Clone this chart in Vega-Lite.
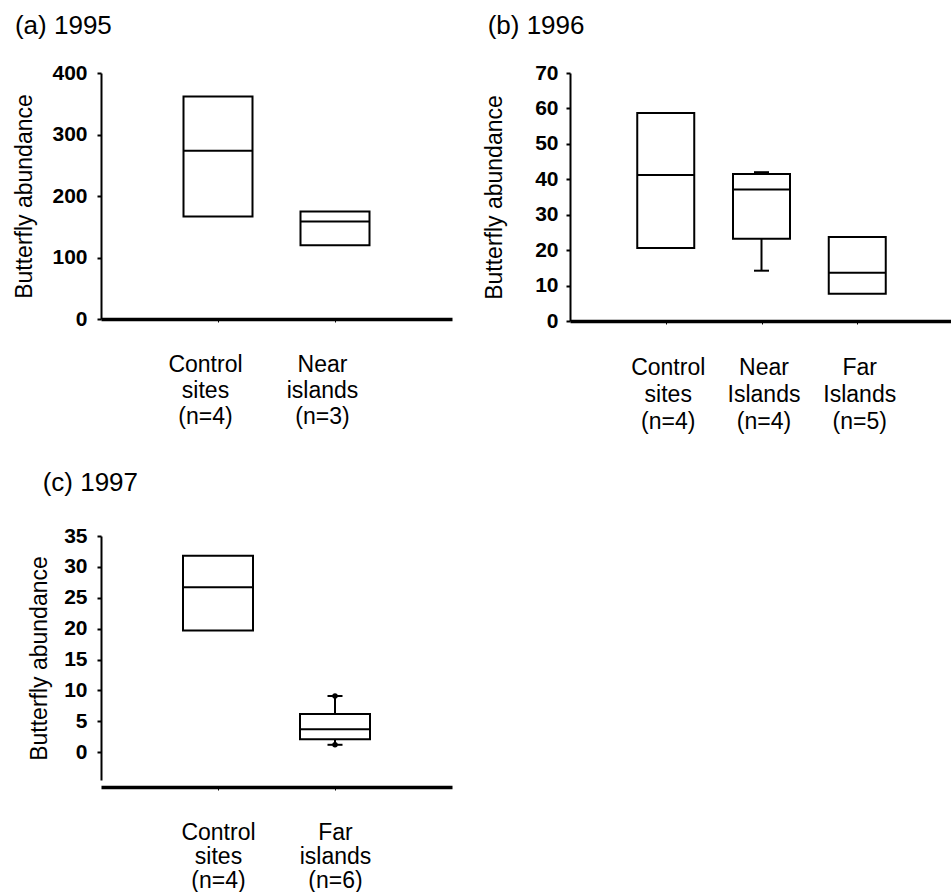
{
  "$schema": "https://vega.github.io/schema/vega-lite/v6.json",
  "autosize": {"type": "pad"},
  "padding": {"left": 13, "top": 13, "right": 0, "bottom": 0},
  "background": "white",
  "columns": 2,
  "bounds": "flush",
  "spacing": {"row": 215, "column": 118},
  "config": {
    "view": {"stroke": null},
    "font": "Liberation Sans",
    "axis": {"grid": false, "domainColor": "black", "tickColor": "black", "labelColor": "black", "titleColor": "black"},
    "axisY": {"labelFontSize": 21, "labelFontWeight": "bold", "labelFont": "Liberation Sans", "labelPadding": 10, "labelOverlap": false, "labelFlush": false, "tickSize": 4, "tickWidth": 2, "domainWidth": 2, "titleFontSize": 23, "titleFontWeight": "normal", "titleFont": "Liberation Sans"},
    "axisX": {"labelAngle": 0, "labelFontSize": 23, "labelFont": "Liberation Sans", "labelBaseline": "alphabetic", "labelOverlap": false, "domainWidth": 3.5, "tickSize": 3, "tickWidth": 1},
    "title": {"color": "black"}
  },
  "concat": [
    {
      "width": 351,
      "height": 246,
      "title": {"text": "(a) 1995", "anchor": "start", "fontSize": 26, "fontWeight": "normal", "baseline": "alphabetic", "offset": 2, "dx": 1, "font": "Liberation Sans"},
      "data": {"values": [
        {"site": "Control sites (n=4)", "q1": 166.7, "median": 273.7, "q3": 361.6},
        {"site": "Near islands (n=3)", "q1": 120, "median": 158.5, "q3": 175}
      ]},
      "encoding": {
        "x": {"field": "site", "type": "nominal", "sort": null, "scale": {"type": "point", "padding": 1, "domain": ["Control sites (n=4)", "Near islands (n=3)"]},
          "axis": {"title": null, "labelLineHeight": 26, "labelPadding": 49, "labelOffset": -13, "labelExpr": "split(datum.label, ' ')"}}
      },
      "layer": [
        {"mark": {"type": "bar", "size": 69, "fill": "white", "stroke": "black", "strokeWidth": 2},
         "encoding": {
           "y": {"field": "q1", "type": "quantitative", "title": "Butterfly abundance", "scale": {"domain": [0, 400], "nice": false},
             "axis": {"values": [0, 100, 200, 300, 400], "titlePadding": 15, "labelOverlap": false, "labelFontSize": 21}},
           "y2": {"field": "q3"}}},
        {"mark": {"type": "tick", "size": 69, "thickness": 2, "color": "black", "opacity": 1},
         "encoding": {"y": {"field": "median", "type": "quantitative", "title": "Butterfly abundance",
             "axis": {"values": [0, 100, 200, 300, 400], "titlePadding": 15, "labelOverlap": false, "labelFontSize": 21}}}}
      ]
    },
    {
      "width": 383,
      "height": 248,
      "title": {"text": "(b) 1996", "anchor": "start", "fontSize": 26, "fontWeight": "normal", "baseline": "alphabetic", "offset": 2, "dx": 4, "font": "Liberation Sans"},
      "data": {"values": [
        {"site": "Control sites (n=4)", "q1": 20.6, "median": 41.2, "q3": 58.7},
        {"site": "Near Islands (n=4)", "q1": 23.2, "median": 37.1, "q3": 41.5, "lower": 14.2, "upper": 42.0},
        {"site": "Far Islands (n=5)", "q1": 7.7, "median": 13.6, "q3": 23.7}
      ]},
      "encoding": {
        "x": {"field": "site", "type": "nominal", "sort": null, "scale": {"type": "point", "padding": 1, "domain": ["Control sites (n=4)", "Near Islands (n=4)", "Far Islands (n=5)"]},
          "axis": {"title": null, "labelLineHeight": 27, "labelPadding": 50, "labelOffset": 2, "labelExpr": "split(datum.label, ' ')"}}
      },
      "layer": [
        {"mark": {"type": "bar", "size": 57, "fill": "white", "stroke": "black", "strokeWidth": 2},
         "encoding": {
           "y": {"field": "q1", "type": "quantitative", "title": "Butterfly abundance", "scale": {"domain": [0, 70], "nice": false},
             "axis": {"values": [0, 10, 20, 30, 40, 50, 60, 70], "labelPadding": 8, "titlePadding": 28, "labelOverlap": false, "labelFontSize": 21}},
           "y2": {"field": "q3"}}},
        {"mark": {"type": "tick", "size": 57, "thickness": 2, "color": "black", "opacity": 1},
         "encoding": {"y": {"field": "median", "type": "quantitative", "title": "Butterfly abundance",
             "axis": {"values": [0, 10, 20, 30, 40, 50, 60, 70], "labelPadding": 8, "titlePadding": 28, "labelOverlap": false, "labelFontSize": 21}}}},
        {"mark": {"type": "rule", "strokeWidth": 2, "color": "black"},
         "encoding": {"y": {"field": "lower", "type": "quantitative", "title": "Butterfly abundance",
             "axis": {"values": [0, 10, 20, 30, 40, 50, 60, 70], "labelPadding": 8, "titlePadding": 28, "labelOverlap": false, "labelFontSize": 21}}, "y2": {"field": "q1"}}},
        {"mark": {"type": "rule", "strokeWidth": 2, "color": "black"},
         "encoding": {"y": {"field": "q3", "type": "quantitative", "title": "Butterfly abundance",
             "axis": {"values": [0, 10, 20, 30, 40, 50, 60, 70], "labelPadding": 8, "titlePadding": 28, "labelOverlap": false, "labelFontSize": 21}}, "y2": {"field": "upper"}}},
        {"mark": {"type": "tick", "size": 15, "thickness": 2, "color": "black", "opacity": 1},
         "encoding": {"y": {"field": "lower", "type": "quantitative", "title": "Butterfly abundance",
             "axis": {"values": [0, 10, 20, 30, 40, 50, 60, 70], "labelPadding": 8, "titlePadding": 28, "labelOverlap": false, "labelFontSize": 21}}}},
        {"mark": {"type": "tick", "size": 15, "thickness": 2, "color": "black", "opacity": 1},
         "encoding": {"y": {"field": "upper", "type": "quantitative", "title": "Butterfly abundance",
             "axis": {"values": [0, 10, 20, 30, 40, 50, 60, 70], "labelPadding": 8, "titlePadding": 28, "labelOverlap": false, "labelFontSize": 21}}}}
      ]
    },
    {
      "width": 351,
      "height": 244,
      "title": {"text": "(c) 1997", "anchor": "start", "fontSize": 26, "fontWeight": "normal", "baseline": "alphabetic", "offset": 8, "dx": 14, "font": "Liberation Sans"},
      "data": {"values": [
        {"site": "Control sites (n=4)", "q1": 19.7, "median": 26.7, "q3": 31.8},
        {"site": "Far islands (n=6)", "q1": 2.1, "median": 3.7, "q3": 6.2, "lower": 1.2, "upper": 9.1}
      ]},
      "encoding": {
        "x": {"field": "site", "type": "nominal", "sort": null, "scale": {"type": "point", "padding": 1, "domain": ["Control sites (n=4)", "Far islands (n=6)"]},
          "axis": {"title": null, "offset": 7, "labelLineHeight": 24, "labelPadding": 49, "labelOffset": 0, "labelExpr": "split(datum.label, ' ')"}}
      },
      "layer": [
        {"mark": {"type": "bar", "size": 70, "fill": "white", "stroke": "black", "strokeWidth": 2},
         "encoding": {
           "y": {"field": "q1", "type": "quantitative", "title": "Butterfly abundance", "scale": {"domain": [-4.5, 35], "nice": false, "zero": false},
             "axis": {"values": [0, 5, 10, 15, 20, 25, 30, 35], "titlePadding": 12, "labelOverlap": false, "labelFontSize": 21}},
           "y2": {"field": "q3"}}},
        {"mark": {"type": "tick", "size": 70, "thickness": 2, "color": "black", "opacity": 1},
         "encoding": {"y": {"field": "median", "type": "quantitative", "title": "Butterfly abundance",
             "axis": {"values": [0, 5, 10, 15, 20, 25, 30, 35], "titlePadding": 12, "labelOverlap": false, "labelFontSize": 21}}}},
        {"mark": {"type": "rule", "strokeWidth": 2, "color": "black"},
         "encoding": {"y": {"field": "lower", "type": "quantitative", "title": "Butterfly abundance",
             "axis": {"values": [0, 5, 10, 15, 20, 25, 30, 35], "titlePadding": 12, "labelOverlap": false, "labelFontSize": 21}}, "y2": {"field": "q1"}}},
        {"mark": {"type": "rule", "strokeWidth": 2, "color": "black"},
         "encoding": {"y": {"field": "q3", "type": "quantitative", "title": "Butterfly abundance",
             "axis": {"values": [0, 5, 10, 15, 20, 25, 30, 35], "titlePadding": 12, "labelOverlap": false, "labelFontSize": 21}}, "y2": {"field": "upper"}}},
        {"mark": {"type": "tick", "size": 15, "thickness": 2, "color": "black", "opacity": 1},
         "encoding": {"y": {"field": "lower", "type": "quantitative", "title": "Butterfly abundance",
             "axis": {"values": [0, 5, 10, 15, 20, 25, 30, 35], "titlePadding": 12, "labelOverlap": false, "labelFontSize": 21}}}},
        {"mark": {"type": "tick", "size": 15, "thickness": 2, "color": "black", "opacity": 1},
         "encoding": {"y": {"field": "upper", "type": "quantitative", "title": "Butterfly abundance",
             "axis": {"values": [0, 5, 10, 15, 20, 25, 30, 35], "titlePadding": 12, "labelOverlap": false, "labelFontSize": 21}}}},
        {"mark": {"type": "point", "filled": true, "size": 30, "color": "black", "opacity": 1},
         "encoding": {"y": {"field": "lower", "type": "quantitative", "title": "Butterfly abundance",
             "axis": {"values": [0, 5, 10, 15, 20, 25, 30, 35], "titlePadding": 12, "labelOverlap": false, "labelFontSize": 21}}}},
        {"mark": {"type": "point", "filled": true, "size": 30, "color": "black", "opacity": 1},
         "encoding": {"y": {"field": "upper", "type": "quantitative", "title": "Butterfly abundance",
             "axis": {"values": [0, 5, 10, 15, 20, 25, 30, 35], "titlePadding": 12, "labelOverlap": false, "labelFontSize": 21}}}}
      ]
    }
  ]
}
